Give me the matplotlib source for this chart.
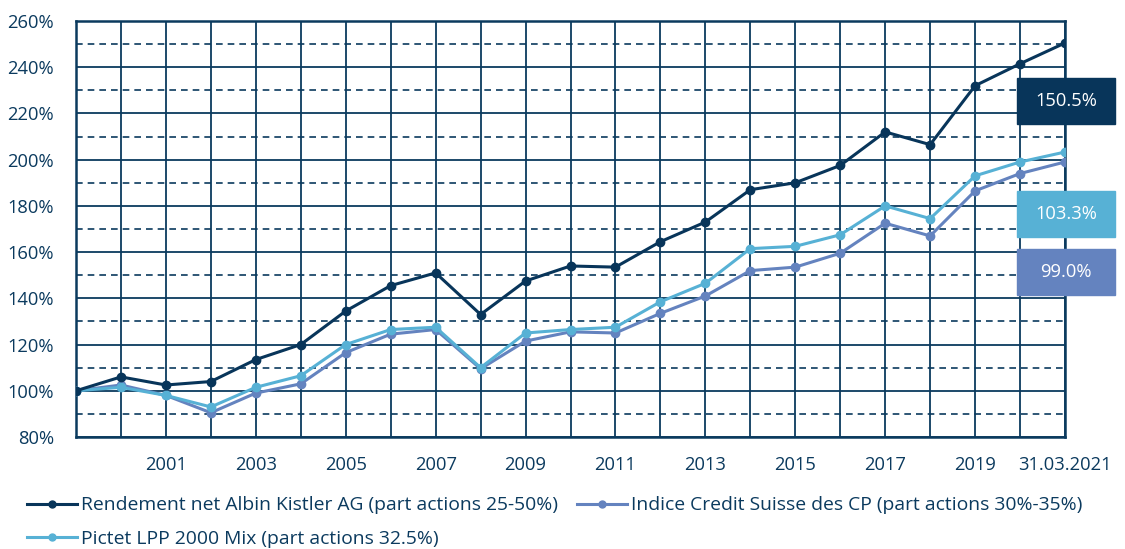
import matplotlib.pyplot as plt
from matplotlib.patches import Rectangle

# Values (index, 1999 = 100%)
years = list(range(1999, 2022))
albin = [100, 106, 102.5, 104, 113.5, 120, 134.5, 145.5, 151, 133, 147.5, 154,
         153.5, 164.5, 173, 187, 190, 197.5, 212, 206.5, 232, 241.5, 250.5]
pictet = [100, 101.5, 98, 93, 101.5, 106.5, 120, 126.5, 127.5, 110, 125, 126.5,
          127.5, 138.5, 146.5, 161.5, 162.5, 167.5, 180, 174.5, 193, 199, 203.3]
cs = [100, 102.5, 98, 90.5, 99, 103, 116.5, 124.5, 126.5, 109.5, 121.5, 125.5,
      125, 133.5, 141, 152, 153.5, 159.5, 172.5, 167, 186.5, 194, 199]

series_labels = ["Rendement net Albin Kistler AG (part actions 25-50%)",
                 "Pictet LPP 2000 Mix (part actions 32.5%)",
                 "Indice Credit Suisse des CP (part actions 30%-35%)"]
end_labels = ["150.5%", "103.3%", "99.0%"]
x_tick_years = list(range(2001, 2022, 2))
x_tick_labels = [str(y) for y in range(2001, 2020, 2)] + ["31.03.2021"]
y_ticks = list(range(80, 261, 20))

navy = "#0b3a5e"
c_albin = "#08355a"
c_pictet = "#57b1d5"
c_cs = "#6483bf"

plt.rcParams['font.family'] = ['Open Sans', 'DejaVu Sans']
fs = 13.2

fig = plt.figure(figsize=(11.25, 5.49), dpi=100)
ax = fig.add_axes([76 / 1125, 1 - 437 / 549, (1065 - 76) / 1125, (437 - 21) / 549])

ax.plot(years, albin, color=c_albin, lw=2.2, marker="o", ms=6, label=series_labels[0], zorder=5)
ax.plot(years, pictet, color=c_pictet, lw=2.2, marker="o", ms=6, label=series_labels[1], zorder=4)
ax.plot(years, cs, color=c_cs, lw=2.2, marker="o", ms=6, label=series_labels[2], zorder=3)

ax.set_xlim(1999, 2021)
ax.set_ylim(80, 260)
ax.set_xticks(x_tick_years)
ax.set_xticklabels(x_tick_labels)
ax.set_xticks(list(range(2000, 2021, 2)), minor=True)
ax.set_yticks(y_ticks)
ax.set_yticklabels([f"{v}%" for v in y_ticks])
ax.set_yticks(list(range(90, 260, 20)), minor=True)

ax.grid(which="major", axis="both", color=navy, lw=1.3, ls="-")
ax.grid(which="minor", axis="x", color=navy, lw=1.3, ls="-")
ax.grid(which="minor", axis="y", color=navy, lw=1.2, ls=(0, (4, 3)))
ax.set_axisbelow(True)

ax.tick_params(which="both", length=0, labelsize=fs, colors=navy)
ax.tick_params(axis="y", pad=16)
ax.tick_params(axis="x", pad=14)
for s in ax.spines.values():
    s.set_color(navy)
    s.set_linewidth(1.8)

# end value boxes
box_tops = [78, 191, 249]
box_colors = [c_albin, c_pictet, c_cs]
for lab, top, col in zip(end_labels, box_tops, box_colors):
    x0, w, h = 1017, 98, 46
    fig.patches.append(Rectangle((x0 / 1125, 1 - (top + h) / 549), w / 1125, h / 549,
                                 transform=fig.transFigure, color=col, zorder=10))
    fig.text((x0 + w / 2) / 1125, 1 - (top + h / 2) / 549, lab, color="white",
             fontsize=fs, ha="center", va="center", zorder=11)

leg = fig.legend(loc="upper left", bbox_to_anchor=(0.017, 0.11), ncol=2, frameon=False,
                 fontsize=13.9, handlelength=2.6, handletextpad=0.2, columnspacing=1.0,
                 labelspacing=0.8, borderaxespad=0)
for t in leg.get_texts():
    t.set_color(navy)
for h in leg.legend_handles:
    h.set_markersize(5)

fig.savefig("out.png", dpi=100)
